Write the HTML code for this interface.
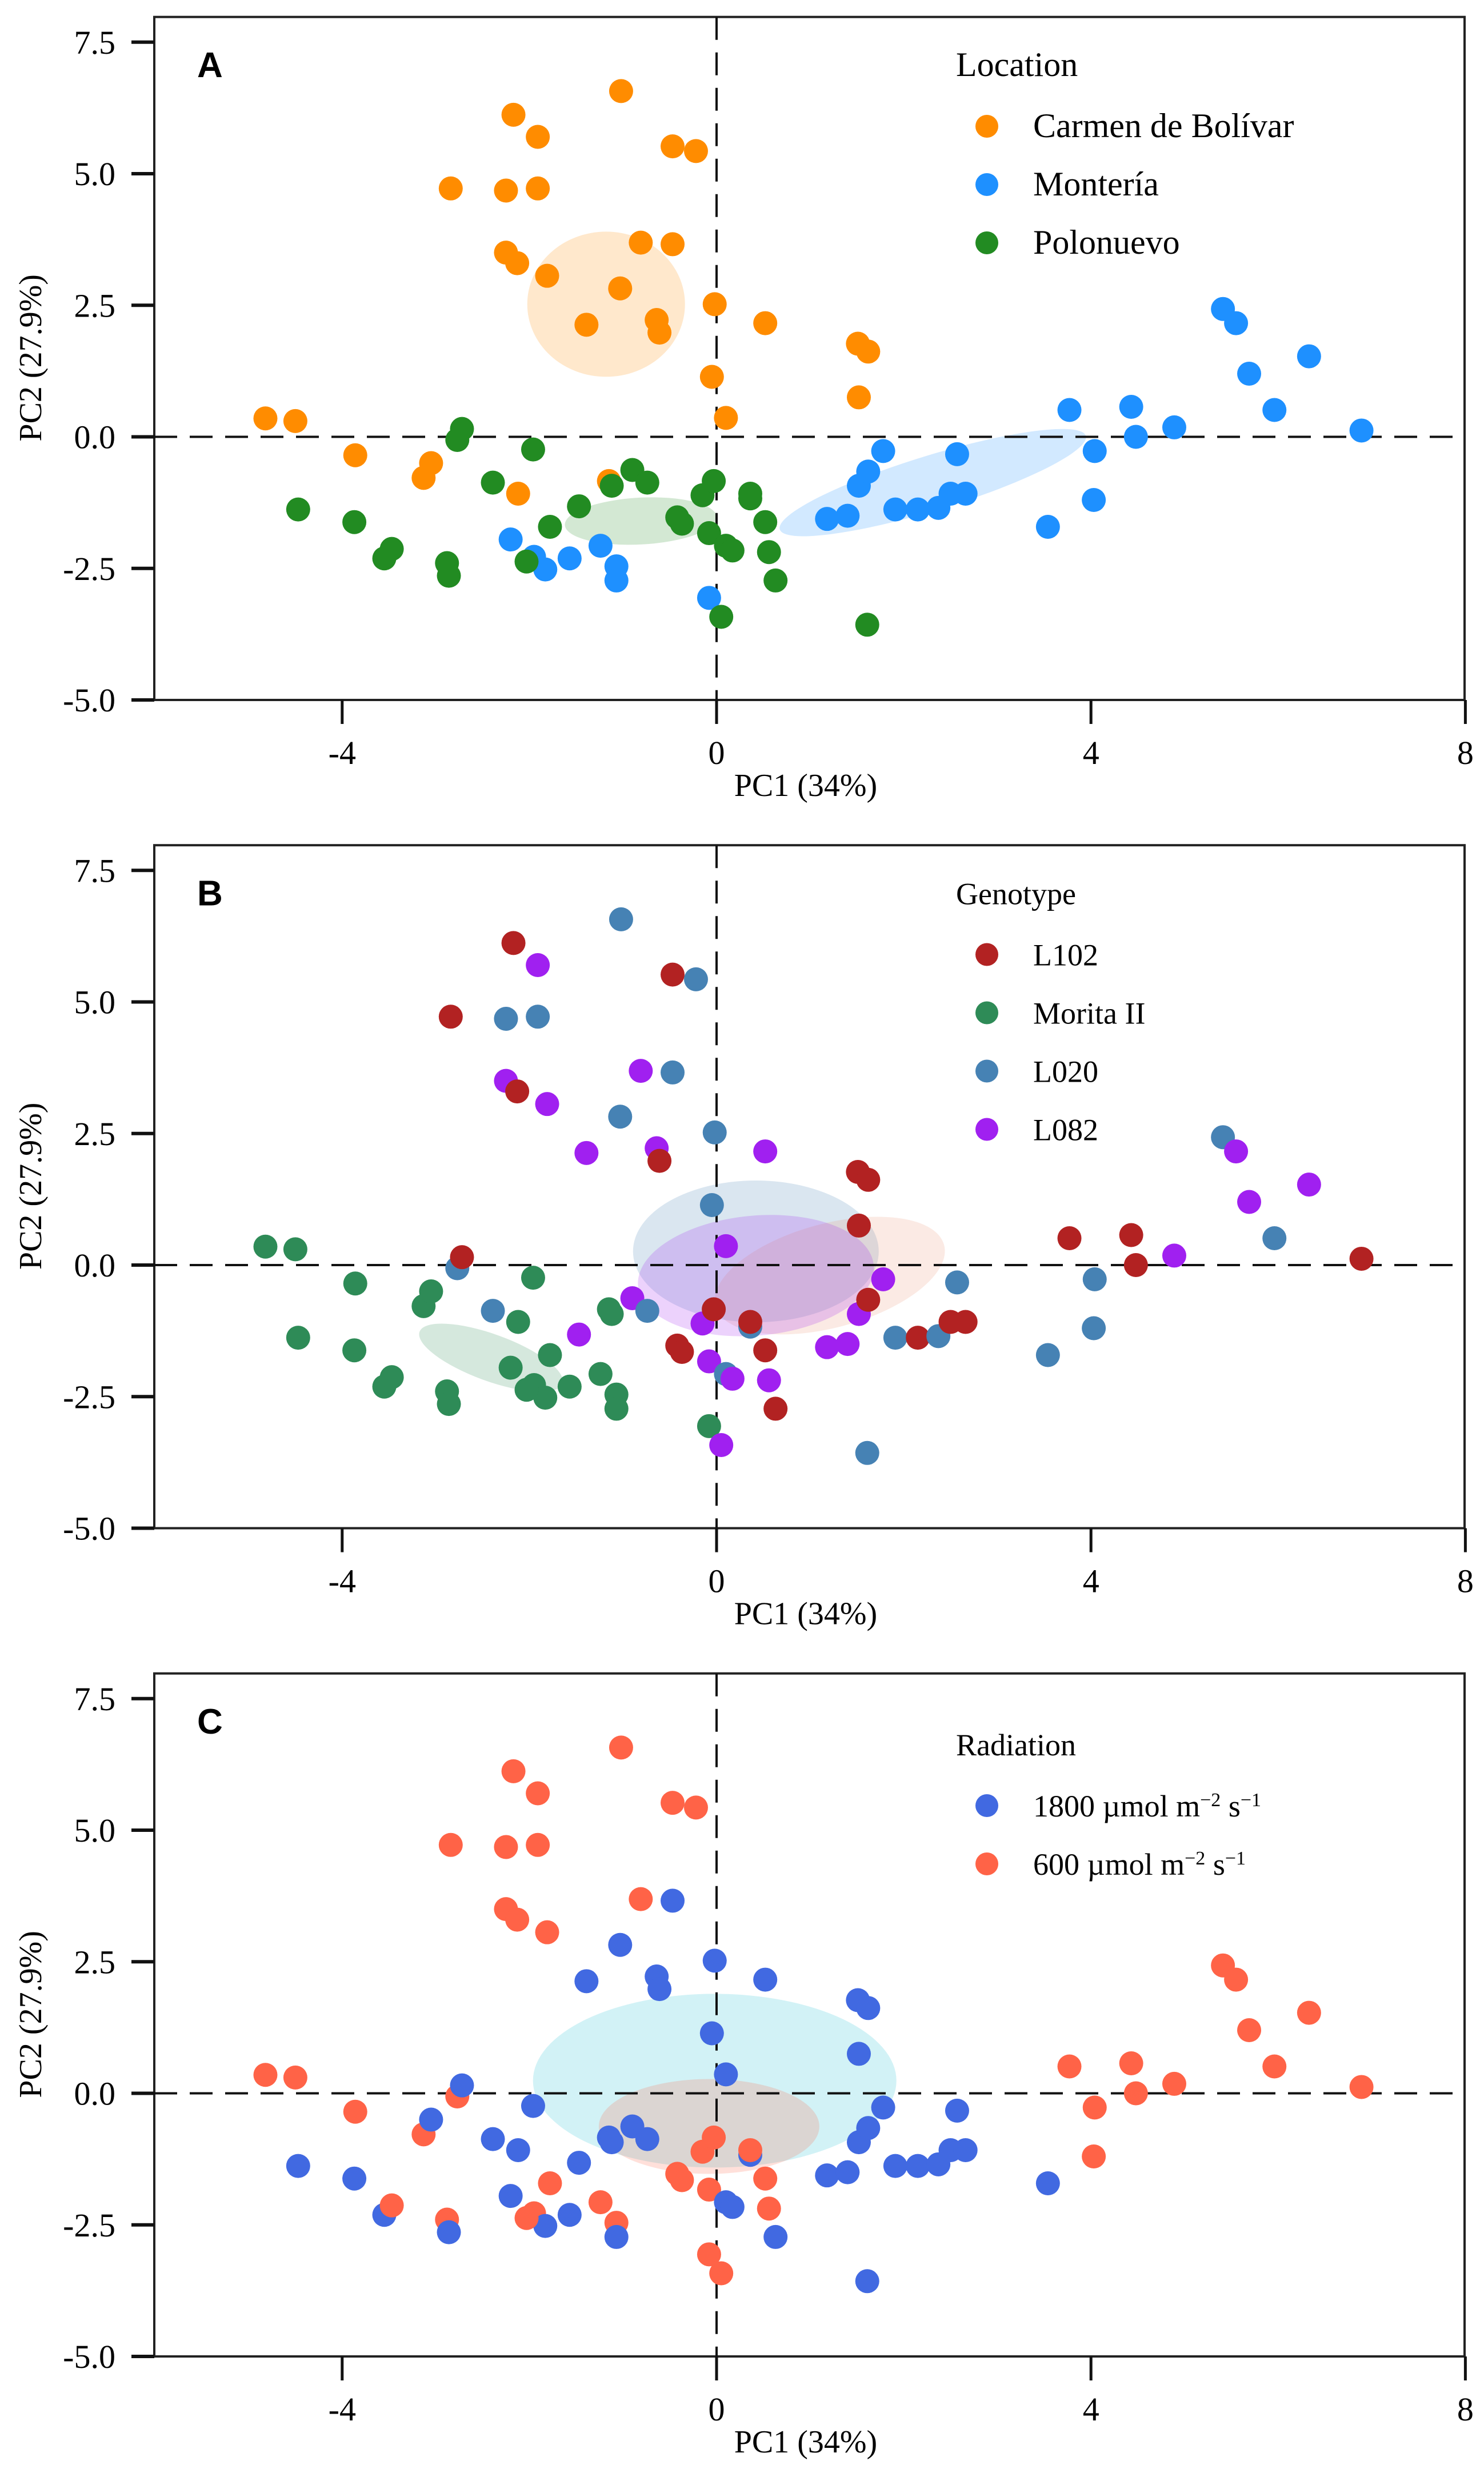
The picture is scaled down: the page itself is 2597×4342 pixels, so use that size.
<!DOCTYPE html>
<html><head><meta charset="utf-8"><style>html,body{margin:0;padding:0;background:#fff}svg{display:block}</style></head>
<body>
<svg id="chart" xmlns="http://www.w3.org/2000/svg" width="2597" height="4342" viewBox="0 0 2597 4342"></svg>
<script>
const pc1 = [-4.82,-4.5,-3.86,-3.13,-3.05,-2.84,-2.25,-2.17,-2.25,-2.13,-2.12,-1.91,-1.91,-1.81,-1.39,-1.15,-1.02,-1.03,-0.81,-0.64,-0.61,-0.47,-0.47,-0.22,-0.05,-0.02,0.1,0.52,1.51,1.52,1.62,
-2.2,-1.95,-1.83,-1.57,-1.24,-1.07,-1.07,-0.08,1.18,1.4,1.52,1.62,1.78,1.91,2.15,2.37,2.5,2.66,2.57,3.54,3.77,4.03,4.04,4.43,4.48,4.89,5.41,5.55,5.69,5.96,6.33,6.89,
-4.47,-3.87,-3.55,-3.47,-2.88,-2.86,-2.77,-2.72,-2.39,-2.03,-1.96,-1.78,-1.47,-1.12,-0.9,-0.74,-0.42,-0.37,-0.15,-0.08,-0.03,0.05,0.1,0.17,0.36,0.36,0.52,0.56,0.63,1.61];
const pc2 = [0.35,0.3,-0.35,-0.78,-0.5,4.72,3.5,6.12,4.68,3.3,-1.08,5.7,4.72,3.06,2.13,-0.84,6.57,2.82,3.69,2.22,1.98,5.52,3.66,5.43,1.14,2.52,0.36,2.16,1.77,0.75,1.62,
-1.95,-2.28,-2.52,-2.31,-2.07,-2.46,-2.73,-3.06,-1.56,-1.5,-0.93,-0.66,-0.27,-1.38,-1.38,-1.35,-1.08,-1.08,-0.33,-1.71,0.51,-1.2,-0.27,0.57,0.0,0.18,2.43,2.16,1.2,0.51,1.53,0.12,
-1.38,-1.62,-2.31,-2.13,-2.4,-2.64,-0.06,0.15,-0.87,-2.37,-0.24,-1.71,-1.32,-0.93,-0.63,-0.87,-1.53,-1.65,-1.11,-1.83,-0.84,-3.42,-2.07,-2.16,-1.17,-1.08,-1.62,-2.19,-2.73,-3.57];
const locationGroup = "CCCCCCCCCCCCCCCCCCCCCCCCCCCCCCCMMMMMMMMMMMMMMMMMMMMMMMMMMMMMMMMPPPPPPPPPPPPPPPPPPPPPPPPPPPPPP".split("");
const genotype = ("GGGGGRPRSRGPSPPGSSPPRRSSSSPPRRR"+"GGGGGGGGPPPRPSRSRRSSRSSRRPSPPSPR"+"GGGGGGSRSGGGPGPSRRPPRPSPSRRPRS").split("");
const radiation = ("LLLLHLLLLLHLLLHHLHLHHLHLHHHHHHH"+"HLHHLLHLHHHHHHHHHHHHLLLLLLLLLLLL"+"HHHLLHLHHLHLHHHHLLLLLLHHHLLLHH").split("");
const xTicks = [-4,0,4,8];
const yTicks = [-5,-2.5,0,2.5,5,7.5];
const yTickLabels = ["-5.0","-2.5","0.0","2.5","5.0","7.5"];
const ellA = [{cx:-1.18,cy:2.52,rx:138,ry:127,a:0,c:"#ff8c00"},{cx:-0.81,cy:-1.6,rx:133,ry:41,a:-3,c:"#228b22"},{cx:2.31,cy:-0.87,rx:280,ry:48,a:-17,c:"#1e90ff"}];
const ellB = [{cx:0.42,cy:0.26,rx:215,ry:124,a:0,c:"#4682b4"},{cx:1.21,cy:-0.2,rx:207,ry:91,a:-15,c:"#e9967a"},{cx:0.42,cy:-0.2,rx:207,ry:105,a:-5,c:"#a020f0"},{cx:-2.41,cy:-1.76,rx:133,ry:41,a:20,c:"#2e8b57"}];
const ellC = [{cx:-0.02,cy:0.24,rx:318,ry:152,a:0,c:"#20c0d0"},{cx:-0.08,cy:-0.63,rx:193,ry:83,a:0,c:"#ff6347"}];

const svg = document.getElementById('chart');
const NS = "http://www.w3.org/2000/svg";
function mk(tag, attrs, parent){const e=document.createElementNS(NS,tag);for(const k in attrs)e.setAttribute(k,attrs[k]);(parent||svg).appendChild(e);return e;}
const X0=270,X1=2563;
function xs(v){return 1254+163.8*v;}
function ys(v,p){return 764.5-92.1*v+p*1449.5;}

const panels = [
 {letter:"A",title:"Location",groups:locationGroup,ell:ellA,keys:["C","M","P"],labels:["Carmen de Bolívar","Montería","Polonuevo"],colors:{C:"#ff8c00",M:"#1e90ff",P:"#228b22"},ly:133,fs:60},
 {letter:"B",title:"Genotype",groups:genotype,ell:ellB,keys:["R","G","S","P"],labels:["L102","Morita II","L020","L082"],colors:{R:"#b22222",G:"#2e8b57",S:"#4682b4",P:"#a020f0"},ly:133,fs:54},
 {letter:"C",title:"Radiation",groups:radiation,ell:ellC,keys:["H","L"],labels:["1800 µmol m<tspan baseline-shift='super' font-size='34'>−2</tspan> s<tspan baseline-shift='super' font-size='34'>−1</tspan>","600 µmol m<tspan baseline-shift='super' font-size='34'>−2</tspan> s<tspan baseline-shift='super' font-size='34'>−1</tspan>"],colors:{H:"#4169e1",L:"#ff6347"},ly:173,fs:54}
];
panels.forEach((P,p)=>{
  const g=mk('g',{});
  
  
  const top=ys(8,p)+2, bot=ys(-5,p);
  const fr=mk('rect',{x:X0,y:top,width:X1-X0,height:bot-top,fill:"none",stroke:"#222","stroke-width":4},g);
  
  
  P.ell.forEach((e,i)=>{
    const el=mk('ellipse',{cx:0,cy:0,rx:e.rx,ry:e.ry,fill:e.c,"fill-opacity":0.2,transform:`translate(${xs(e.cx)},${ys(e.cy,p)}) rotate(${e.a})`},g);
    
    
  });
  const vl=mk('line',{x1:xs(0),x2:xs(0),y1:top,y2:bot,stroke:"#111","stroke-width":4,"stroke-dasharray":"40 22"},g);
  
  
  const hl=mk('line',{x1:X0,x2:X1,y1:ys(0,p),y2:ys(0,p),stroke:"#111","stroke-width":4,"stroke-dasharray":"40 22"},g);
  
  
  pc1.forEach((v,i)=>{
    const c=mk('circle',{cx:xs(v),cy:ys(pc2[i],p),r:21,fill:P.colors[P.groups[i]]},g);
    
    
  });
  xTicks.forEach(t=>{
    const l=mk('line',{x1:xs(t),x2:xs(t),y1:bot,y2:bot+42,stroke:"#111","stroke-width":5},g);
    
    
    const tx=mk('text',{x:xs(t),y:bot+112,"text-anchor":"middle","font-family":"Liberation Serif, serif","font-size":58},g);
    tx.textContent=String(t);
    
    
  });
  yTicks.forEach((t,i)=>{
    const l=mk('line',{x1:X0-40,x2:X0,y1:ys(t,p),y2:ys(t,p),stroke:"#111","stroke-width":6},g);
    
    
    const tx=mk('text',{x:X0-68,y:ys(t,p)+20,"text-anchor":"end","font-family":"Liberation Serif, serif","font-size":58},g);
    tx.textContent=yTickLabels[i];
    
    
  });
  const xt=mk('text',{x:1410,y:bot+168,"text-anchor":"middle","font-family":"Liberation Serif, serif","font-size":56},g);
  xt.textContent="PC1 (34%)";
  
  
  const yc=ys(1.5,p);
  const yt=mk('text',{x:0,y:0,"text-anchor":"middle","font-family":"Liberation Serif, serif","font-size":56,transform:`translate(72,${yc}) rotate(-90)`},g);
  yt.textContent="PC2 (27.9%)";
  
  
  const pl=mk('text',{x:345,y:135+p*1449.5,"font-family":"Liberation Sans, sans-serif","font-weight":"bold","font-size":62},g);
  pl.textContent=P.letter;
  
  
  const lg=mk('g',{},g);
  
  
  const lt=mk('text',{x:1673,y:P.ly+p*1449.5,"font-family":"Liberation Serif, serif","font-size":P.fs},lg);
  lt.textContent=P.title;
  
  
  P.keys.forEach((k,i)=>{
    const cy=P.ly+88+i*102+p*1449.5;
    const d=mk('circle',{cx:1727,cy:cy,r:20,fill:P.colors[k]},lg);
    
    
    const t=mk('text',{x:1808,y:cy+19,"font-family":"Liberation Serif, serif","font-size":P.fs},lg);
    t.innerHTML=P.labels[i];
    
    
  });
});
</script>
</body></html>
